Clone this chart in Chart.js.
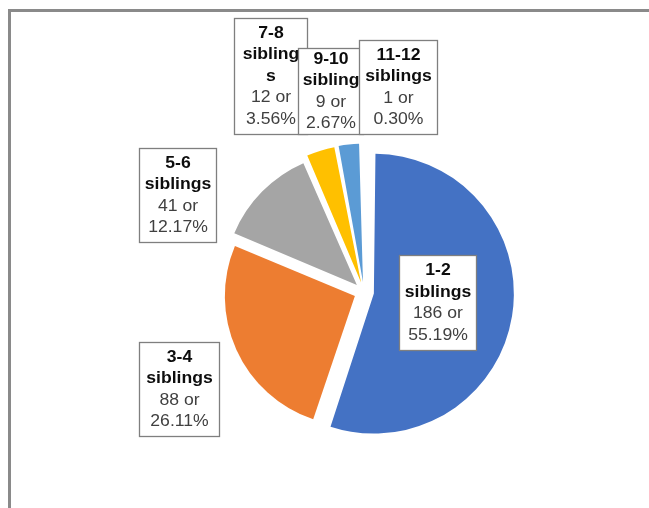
<!DOCTYPE html>
<html>
<head>
<meta charset="utf-8">
<script src="https://cdn.jsdelivr.net/npm/chart.js@4.4.0/dist/chart.umd.min.js"></script>
<style>
  body { margin: 0; background: #fff; }
  canvas { display: block; }
</style>
</head>
<body>
<canvas id="chart" width="649" height="508"></canvas>
<script>
// number of siblings reported
const groups = ['1-2 siblings', '3-4 siblings', '5-6 siblings', '7-8 siblings', '9-10 siblings', '11-12 siblings']
const counts = [186, 88, 41, 12, 9, 1]
const colours = ['#4472C4', '#ED7D31', '#A5A5A5', '#FFC000', '#5B9BD5', '#70AD47']

// where each callout box sits (drawn in this order, later ones on top)
// dx nudges the text when it runs past the box edge
const boxes = [
  { x: 399, y: 255, w: 78, h: 96, dx: 0 },
  { x: 139, y: 342, w: 81, h: 95, dx: 0 },
  { x: 139, y: 148, w: 78, h: 95, dx: 0 },
  { x: 234, y: 18, w: 74, h: 117, dx: 0 },
  { x: 298, y: 48, w: 66, h: 87, dx: 5 },
  { x: 359, y: 40, w: 79, h: 95, dx: 0 }
]
// the 7-8 label is too narrow for "siblings" and wraps
const nameLines = [
  ['1-2', 'siblings'],
  ['3-4', 'siblings'],
  ['5-6', 'siblings'],
  ['7-8', 'sibling', 's'],
  ['9-10', 'siblings'],
  ['11-12', 'siblings']
]

const total = counts.reduce((a, b) => a + b, 0)

const frame = {
  id: 'frame',
  beforeDraw(chart) {
    const ctx = chart.ctx
    ctx.save()
    ctx.strokeStyle = '#8a8a8a'
    ctx.lineWidth = 3
    ctx.beginPath()
    ctx.moveTo(9.5, 508)
    ctx.lineTo(9.5, 10.5)
    ctx.lineTo(649, 10.5)
    ctx.stroke()
    ctx.restore()
  }
}

const callouts = {
  id: 'callouts',
  afterDraw(chart) {
    const ctx = chart.ctx
    const lineH = 21.5
    counts.forEach((v, i) => {
      const b = boxes[i]
      ctx.save()
      ctx.fillStyle = '#fff'
      ctx.fillRect(b.x, b.y, b.w, b.h)
      ctx.strokeStyle = '#7f7f7f'
      ctx.lineWidth = 1.3
      ctx.strokeRect(b.x + 0.5, b.y + 0.5, b.w - 1, b.h - 1)

      const pct = (v / total * 100).toFixed(2) + '%'
      const lines = nameLines[i].map(t => ({ t, bold: true }))
      lines.push({ t: v + ' or', bold: false }, { t: pct, bold: false })

      const cx = b.x + b.w / 2
      const startY = b.y + b.h / 2 - (lines.length - 1) * lineH / 2
      ctx.textAlign = 'center'
      ctx.textBaseline = 'middle'
      lines.forEach((ln, k) => {
        ctx.save()
        // only the wrapped name line is pushed sideways
        const shift = (ln.bold && k > 0) ? b.dx : 0
        ctx.translate(cx + shift, startY + k * lineH)
        ctx.scale(1.1, 1)
        ctx.font = (ln.bold ? 'bold ' : '') + '16px "Liberation Sans", Arial, sans-serif'
        ctx.fillStyle = ln.bold ? '#0d0d0d' : '#404040'
        ctx.fillText(ln.t, 0, 0)
        ctx.restore()
      })
      ctx.restore()
    })
  }
}

const ctx = document.getElementById('chart').getContext('2d')
const chart = new Chart(ctx, {
  type: 'pie',
  data: {
    labels: groups,
    datasets: [{
      data: counts,
      backgroundColor: colours,
      borderWidth: 0,
      offset: 40,   // arcs move offset/4 px outwards
      hoverOffset: 0
    }]
  },
  options: {
    responsive: false,
    animation: false,
    events: [],
    layout: {
      padding: { left: 214, right: 135, top: 142, bottom: 66 }
    },
    plugins: {
      legend: { display: false },
      tooltip: { enabled: false }
    }
  },
  plugins: [frame, callouts]
})
</script>
</body>
</html>
